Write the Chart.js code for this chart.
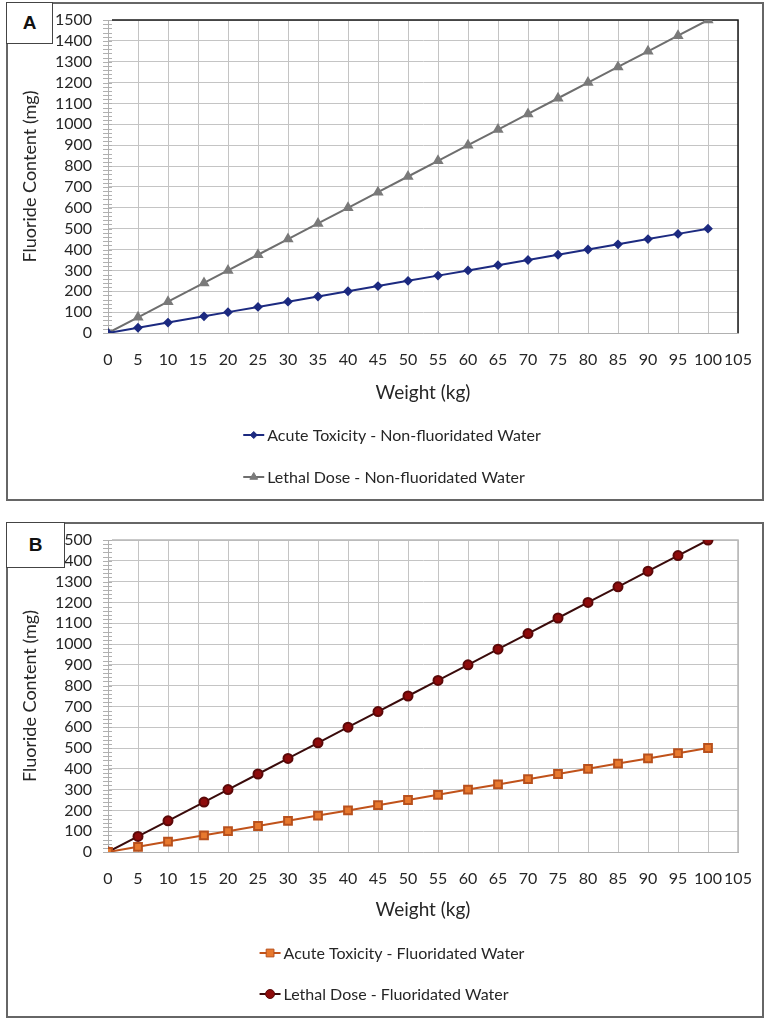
<!DOCTYPE html>
<html>
<head>
<meta charset="utf-8">
<script src="https://cdn.jsdelivr.net/npm/chart.js@4/dist/chart.umd.min.js"></script>
<style>
  body { margin: 0; background: #fff; width: 767px; height: 1021px; position: relative; overflow: hidden; }
  .panel { position: absolute; left: 6px; width: 758px; box-sizing: border-box; border: 2px solid #666; background: #fff; }
  .panel canvas { position: absolute; left: 0; top: 0; }
  .tag { position: absolute; left: 6px; box-sizing: border-box; border: 1.5px solid #444; background: #fff;
         font: bold 19px "Liberation Sans", Arial, sans-serif; color: #111;
         display: flex; align-items: center; justify-content: center; z-index: 2; }
</style>
</head>
<body>
<div class="panel" style="top:2px;height:499px"><canvas id="chartA" width="754" height="495"></canvas></div>
<div class="tag" style="top:2px;width:47px;height:42px">A</div>
<div class="panel" style="top:522px;height:496px"><canvas id="chartB" width="754" height="492"></canvas></div>
<div class="tag" style="top:522px;width:59px;height:46px">B</div>

<script>
// body weight (kg) - note the third point sits at 16 kg
const weight = [0, 5, 10, 16, 20, 25, 30, 35, 40, 45, 50, 55, 60, 65, 70, 75, 80, 85, 90, 95, 100];

// fluoride content (mg)
const acuteNonFluor  = [0, 25, 50, 80, 100, 125, 150, 175, 200, 225, 250, 275, 300, 325, 350, 375, 400, 425, 450, 475, 500];
const lethalNonFluor = [0, 75, 150, 240, 300, 375, 450, 525, 600, 675, 750, 825, 900, 975, 1050, 1125, 1200, 1275, 1350, 1425, 1500];
const acuteFluor     = [0, 25, 50, 80, 100, 125, 150, 175, 200, 225, 250, 275, 300, 325, 350, 375, 400, 425, 450, 475, 500];
const lethalFluor    = [0, 75, 150, 240, 300, 375, 450, 525, 600, 675, 750, 825, 900, 975, 1050, 1125, 1200, 1275, 1350, 1425, 1500];

const xMin = 0, xMax = 105, xStep = 5;
const yMin = 0, yMax = 1500, yStep = 100, yMinorStep = 20;

const FONT = 'Lato, "Open Sans", sans-serif';

function pts(vals) {
  return vals.map((v, i) => ({ x: weight[i], y: v }));
}

// minor y ticks, plot frame and the stacked legend (Excel style)
const extras = {
  id: 'extras',
  beforeDatasetsDraw(chart, args, o) {
    const ctx = chart.ctx, ys = chart.scales.y, a = chart.chartArea;
    ctx.save();
    ctx.strokeStyle = '#b0b0b0';
    ctx.lineWidth = 1;
    for (let v = yMin; v <= yMax; v += yMinorStep) {
      const py = Math.round(ys.getPixelForValue(v)) + 0.5;
      ctx.beginPath();
      ctx.moveTo(a.left - 5, py);
      ctx.lineTo(a.left + 4, py);
      ctx.stroke();
    }
    ctx.strokeStyle = o.frame;
    ctx.lineWidth = 1.5;
    ctx.beginPath();
    ctx.moveTo(a.left + 4, a.top);
    ctx.lineTo(a.right, a.top);
    ctx.lineTo(a.right, a.bottom);
    ctx.stroke();
    ctx.restore();
  },
  afterDraw(chart, args, o) {
    const ctx = chart.ctx;
    ctx.save();
    ctx.font = '16px ' + FONT;
    const labels = chart.data.datasets.map(d => d.label);
    const maxW = Math.max(...labels.map(t => ctx.measureText(t).width));
    const left = o.centerX - (maxW + 24) / 2;
    chart.data.datasets.forEach((d, i) => {
      const y = o.rows[i];
      ctx.strokeStyle = d.borderColor;
      ctx.lineWidth = 2;
      ctx.beginPath();
      ctx.moveTo(left, y);
      ctx.lineTo(left + 21, y);
      ctx.stroke();
      ctx.fillStyle = d.pointBackgroundColor;
      ctx.strokeStyle = d.pointBorderColor;
      ctx.lineWidth = 1;
      Chart.helpers.drawPoint(ctx, { pointStyle: d.pointStyle, radius: d.pointRadius, rotation: 0, borderWidth: 1 }, left + 10.5, y);
      ctx.fillStyle = '#262626';
      ctx.textBaseline = 'middle';
      ctx.textAlign = 'left';
      ctx.fillText(d.label, left + 24, y + 1);
    });
    ctx.restore();
  }
};

function makeChart(id, datasets, frame, rows, plotBottom) {
  const cv = document.getElementById(id);
  return new Chart(cv, {
    type: 'line',
    data: { datasets: datasets },
    options: {
      responsive: false,
      animation: false,
      layout: { padding: { top: 16, right: 24, left: 0, bottom: 0 } },
      scales: {
        x: {
          type: 'linear', min: xMin, max: xMax,
          afterFit: s => { s.height = cv.height - plotBottom; s.paddingLeft = 0; s.paddingRight = 0; },
          ticks: { stepSize: xStep, padding: 17, autoSkip: false, maxRotation: 0, minRotation: 0,
                   color: '#262626', font: { family: FONT, size: 16 } },
          grid: { color: '#c4c4c4', lineWidth: 1, drawTicks: false },
          border: { color: '#b0b0b0' },
          title: { display: true, text: 'Weight (kg)', color: '#262626',
                   font: { family: FONT, size: 19 }, padding: { top: 0, bottom: 95 } }
        },
        y: {
          min: yMin, max: yMax,
          afterFit: s => { s.width = 100; s.paddingTop = 0; s.paddingBottom = 0; },
          ticks: { stepSize: yStep, padding: 16, autoSkip: false, callback: v => String(v),
                   color: '#262626', font: { family: FONT, size: 16 } },
          grid: { color: '#c4c4c4', lineWidth: 1, drawTicks: false },
          border: { color: '#b0b0b0' },
          title: { display: true, text: 'Fluoride Content (mg)', color: '#262626',
                   font: { family: FONT, size: 18 }, padding: { top: 11, bottom: 0 } }
        }
      },
      plugins: {
        legend: { display: false },
        tooltip: { enabled: false },
        extras: { frame: frame, rows: rows, centerX: 384 }
      }
    },
    plugins: [extras]
  });
}

makeChart('chartA', [
  { label: 'Acute Toxicity - Non-fluoridated Water', data: pts(acuteNonFluor),
    borderColor: '#1c2a80', borderWidth: 2, pointStyle: 'rectRot', pointRadius: 3.5,
    pointBackgroundColor: '#1c2a80', pointBorderColor: '#1c2a80' },
  { label: 'Lethal Dose - Non-fluoridated Water', data: pts(lethalNonFluor),
    borderColor: '#6e6e6e', borderWidth: 2, pointStyle: 'triangle', pointRadius: 4.5,
    pointBackgroundColor: '#7a7a7a', pointBorderColor: '#7a7a7a' }
], '#1a1a1a', [431, 473], 329);

makeChart('chartB', [
  { label: 'Acute Toxicity - Fluoridated Water', data: pts(acuteFluor),
    borderColor: '#c0521a', borderWidth: 2, pointStyle: 'rect', pointRadius: 5.5,
    pointBackgroundColor: '#e8792e', pointBorderColor: '#b8501c' },
  { label: 'Lethal Dose - Fluoridated Water', data: pts(lethalFluor),
    borderColor: '#3a0b0b', borderWidth: 2, pointStyle: 'circle', pointRadius: 4.5,
    pointBackgroundColor: '#8e0b0b', pointBorderColor: '#5a0808' }
], '#b8b8b8', [429, 470], 328);
</script>
</body>
</html>
